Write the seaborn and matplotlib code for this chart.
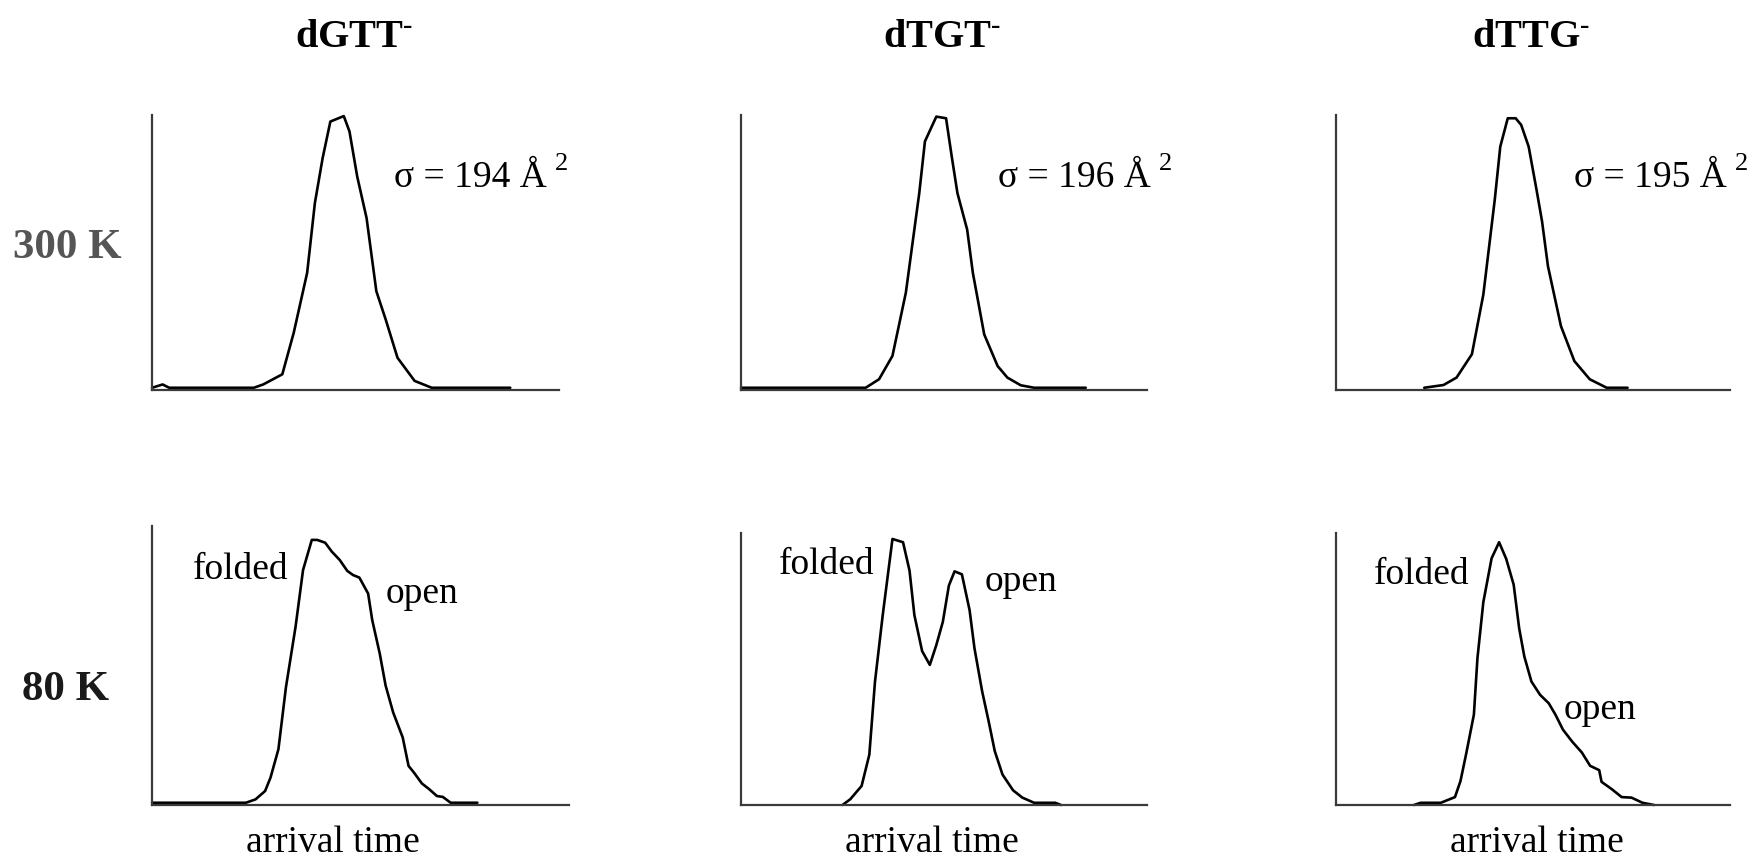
import matplotlib
matplotlib.use("Agg")
import matplotlib.pyplot as plt
import seaborn as sns
import pandas as pd

# Arrival-time distributions (arbitrary time units, normalised intensity)
dgtt_300_t = [0, 2.6, 4.2, 25.0, 27.3, 32.0, 34.8, 38.1, 40.0, 41.9, 43.8, 47.1, 48.5,
              50.4, 52.7, 55.1, 57.4, 60.3, 64.5, 68.7, 88.0]
dgtt_300_i = [0.008, 0.02, 0.008, 0.008, 0.02, 0.057, 0.208, 0.426, 0.680, 0.843, 0.976,
              0.996, 0.94, 0.776, 0.625, 0.359, 0.256, 0.117, 0.033, 0.008, 0.008]

dtgt_300_t = [0, 30.7, 34.0, 37.3, 40.6, 43.9, 45.3, 48.1, 50.5, 51.9, 53.3, 55.7, 57.1,
              59.9, 63.2, 65.6, 68.9, 72.2, 84.9]
dtgt_300_i = [0.008, 0.008, 0.039, 0.124, 0.354, 0.716, 0.904, 0.994, 0.988, 0.849, 0.716,
              0.583, 0.426, 0.202, 0.087, 0.045, 0.017, 0.008, 0.008]

dttg_300_t = [22.4, 27.3, 30.6, 34.5, 37.4, 40.3, 41.7, 43.6, 45.6, 47.0, 48.9, 50.9, 52.3,
              53.8, 57.1, 60.5, 64.4, 68.7, 74.0]
dttg_300_i = [0.008, 0.018, 0.045, 0.130, 0.347, 0.692, 0.885, 0.988, 0.988, 0.964, 0.885,
              0.728, 0.613, 0.450, 0.232, 0.105, 0.039, 0.008, 0.008]

dgtt_80_t = [0, 22.5, 24.8, 27.1, 28.4, 30.3, 32.1, 34.4, 36.2, 38.3, 39.6, 41.5, 43.1, 45.0,
             46.8, 48.2, 49.7, 51.8, 52.8, 54.6, 56.0, 57.8, 60.1, 61.5, 62.8, 64.7, 66.5,
             68.3, 69.7, 71.6, 78.0]
dgtt_80_i = [0.008, 0.008, 0.02, 0.050, 0.098, 0.200, 0.422, 0.638, 0.842, 0.950, 0.950,
             0.940, 0.908, 0.878, 0.839, 0.824, 0.815, 0.758, 0.662, 0.542, 0.428, 0.332,
             0.242, 0.140, 0.116, 0.077, 0.056, 0.032, 0.029, 0.008, 0.008]

dtgt_80_t = [25.0, 26.9, 29.7, 31.6, 33.0, 34.9, 37.3, 39.9, 41.5, 42.7, 44.6, 46.5, 48.1,
             49.7, 51.2, 52.6, 54.4, 56.3, 57.5, 59.4, 61.0, 62.5, 64.4, 67.0, 69.3, 72.2,
             77.4, 78.8]
dtgt_80_i = [0.0, 0.021, 0.070, 0.185, 0.454, 0.698, 0.978, 0.966, 0.862, 0.698, 0.566,
             0.515, 0.588, 0.673, 0.807, 0.859, 0.848, 0.716, 0.576, 0.417, 0.307, 0.198,
             0.112, 0.054, 0.027, 0.008, 0.008, 0.0]

dttg_80_t = [19.8, 21.5, 26.6, 30.2, 31.6, 33.0, 35.0, 35.9, 37.4, 39.5, 41.4, 43.2, 45.1,
             46.5, 47.8, 49.6, 51.8, 54.0, 55.7, 57.6, 60.0, 62.4, 64.5, 66.8, 67.4, 70.1,
             72.5, 75.0, 77.8, 80.7]
dttg_80_i = [0.0, 0.008, 0.008, 0.029, 0.088, 0.185, 0.332, 0.539, 0.746, 0.907, 0.966,
             0.905, 0.810, 0.649, 0.546, 0.454, 0.405, 0.374, 0.332, 0.277, 0.232, 0.193,
             0.144, 0.128, 0.085, 0.057, 0.029, 0.027, 0.008, 0.0]

species = ["dGTT", "dTGT", "dTTG"]
temperatures = ["300 K", "80 K"]
cross_sections = [194, 196, 195]
xlabel = "arrival time"

sns.set_theme(style="white")
plt.rcParams["font.family"] = ["Liberation Serif", "DejaVu Serif"]
plt.rcParams["text.color"] = "black"
plt.rcParams["mathtext.fontset"] = "custom"
plt.rcParams["mathtext.rm"] = "Liberation Serif"
plt.rcParams["mathtext.bf"] = "Liberation Serif:bold"
plt.rcParams["mathtext.it"] = "Liberation Serif:italic"

fig = plt.figure(figsize=(17.56, 8.58), dpi=100)

# axes rectangles: [left, bottom, width, height] in figure fraction
rects = [
    [0.0866, 0.5455, 0.2318, 0.3205],
    [0.4220, 0.5455, 0.2312, 0.3205],
    [0.7608, 0.5455, 0.2244, 0.3205],
    [0.0866, 0.0618, 0.2375, 0.3252],
    [0.4220, 0.0618, 0.2312, 0.3170],
    [0.7608, 0.0618, 0.2244, 0.3170],
]
curves = [
    (dgtt_300_t, dgtt_300_i), (dtgt_300_t, dtgt_300_i), (dttg_300_t, dttg_300_i),
    (dgtt_80_t, dgtt_80_i), (dtgt_80_t, dtgt_80_i), (dttg_80_t, dttg_80_i),
]

axes = []
for rect, (t, inten) in zip(rects, curves):
    ax = fig.add_axes(rect)
    df = pd.DataFrame({"t": t, "i": inten})
    sns.lineplot(data=df, x="t", y="i", ax=ax, color="black", linewidth=1.9,
                 sort=False, estimator=None)
    for ln in ax.get_lines():
        ln.set_clip_on(False)
    ax.set_xlim(0, 100)
    ax.set_ylim(0, 1.0)
    ax.set_xticks([])
    ax.set_yticks([])
    ax.set_xlabel("")
    ax.set_ylabel("")
    for side in ("top", "right"):
        ax.spines[side].set_visible(False)
    for side in ("left", "bottom"):
        ax.spines[side].set_color("#3a3a3a")
        ax.spines[side].set_linewidth(1.6)
    ax.set_facecolor("white")
    axes.append(ax)

# column titles (anion charge as a short superscript bar)
HYPHEN = "\u2010"
for ax, name in zip(axes[:3], species):
    pos = ax.get_position()
    label = "$\\mathbf{" + name + "}^{\\mathbf{" + HYPHEN + "}}$"
    fig.text(pos.x0 + pos.width / 2 - 0.001, 0.956, label,
             ha="center", va="center", fontsize=29)

# row labels
fig.text(0.0074, 0.7104, temperatures[0], fontsize=31, fontweight="bold",
         color="#555555", ha="left", va="center")
fig.text(0.0125, 0.1954, temperatures[1], fontsize=31, fontweight="bold",
         color="#1a1a1a", ha="left", va="center")

# collision cross sections
sigma_pos = [(0.595, 0.770), (0.633, 0.770), (0.603, 0.770)]
for ax, cs, (px, py) in zip(axes[:3], cross_sections, sigma_pos):
    main = ax.text(px, py, "σ = %d Å" % cs, transform=ax.transAxes, fontsize=27,
                   ha="left", va="center", clip_on=False)
    ax.annotate("2", xy=(1, 1), xycoords=main, xytext=(6, 6),
                textcoords="offset points", fontsize=19, ha="left", va="top")

# conformer labels at 80 K
folded_pos = [(0.098, 0.842), (0.094, 0.885), (0.096, 0.845)]
open_pos = [(0.561, 0.756), (0.600, 0.820), (0.579, 0.349)]
xlabel_pos = [0.434, 0.470, 0.510]
for ax, fp, op, xl in zip(axes[3:], folded_pos, open_pos, xlabel_pos):
    ax.text(fp[0], fp[1], "folded", transform=ax.transAxes, fontsize=27,
            ha="left", va="center")
    ax.text(op[0], op[1], "open", transform=ax.transAxes, fontsize=27,
            ha="left", va="center")
    ax.text(xl, -0.075, xlabel, transform=ax.transAxes, fontsize=27,
            ha="center", va="top")

fig.savefig("out.png", dpi=100, facecolor="white")
